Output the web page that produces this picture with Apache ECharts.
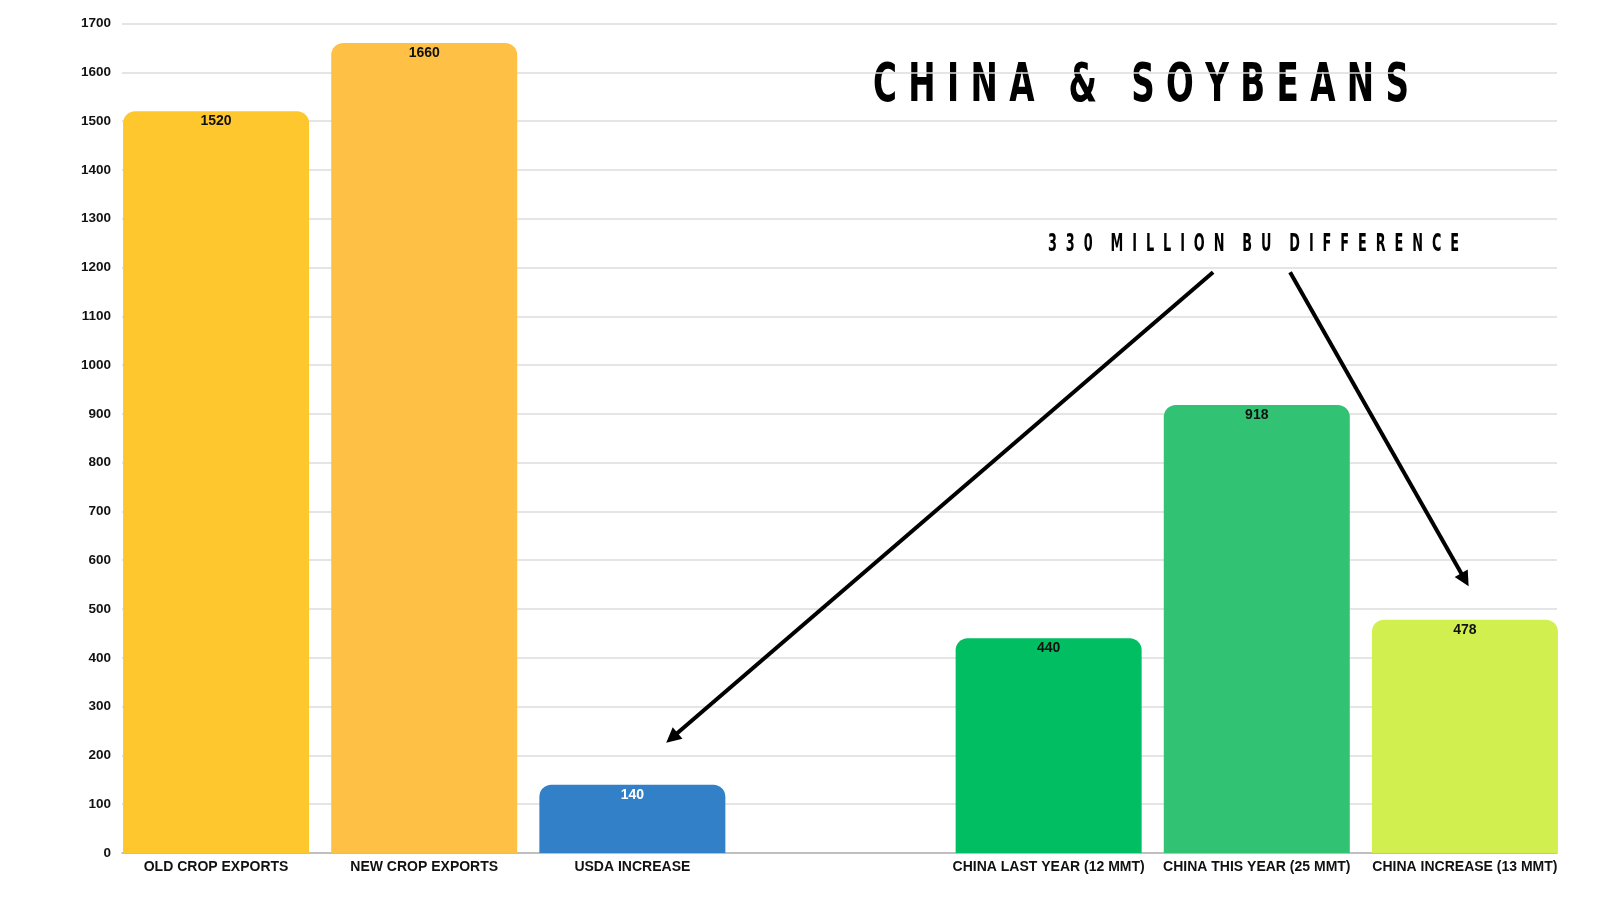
<!DOCTYPE html>
<html>
<head>
<meta charset="utf-8">
<title>China & Soybeans</title>
<script src="https://cdn.jsdelivr.net/npm/echarts@6/dist/echarts.min.js"></script>
<style>
  html, body { margin: 0; padding: 0; background: #fff; }
  #main { width: 1600px; height: 900px; }
</style>
</head>
<body>
<div id="main"></div>
<script>
// 数据
const categories = ['OLD CROP EXPORTS', 'NEW CROP EXPORTS', 'USDA INCREASE', '',
  'CHINA LAST YEAR (12 MMT)', 'CHINA THIS YEAR (25 MMT)', 'CHINA INCREASE (13 MMT)'];
const values = [1520, 1660, 140, null, 440, 918, 478];
const barColors = ['#FEC72D', '#FEC145', '#3180C8', '#ffffff', '#01BE62', '#32C274', '#D1EF4E'];
const labelColors = ['#111', '#111', '#ffffff', '#111', '#111', '#111', '#111'];
const yMin = 0, yMax = 1700, yStep = 100;

const titleText = 'CHINA & SOYBEANS';
const noteText = '330 MILLION BU DIFFERENCE';

// arrow anchors in (slot, value) units
const arrowFrom = [[5.29, 1190], [5.66, 1190]];
const arrowTo = [[2.69, 236], [6.5, 560]];

(function () {
    'use strict';

    const FONT = '"Liberation Sans", Arial, sans-serif';
    const DISPLAY = '"DejaVu Sans Condensed", "DejaVu Sans", sans-serif';

    // letter-spaced string
    function spaced(str, gap, wordGap) {
        return str.split(' ').map(w => w.split('').join(gap)).join(wordGap);
    }

    // measure text width to fit a target width via scaleX
    const mctx = document.createElement('canvas').getContext('2d');
    function fitScale(text, size, target) {
        mctx.font = 'bold ' + size + 'px ' + DISPLAY;
        return target / mctx.measureText(text).width;
    }

    const titleStr = spaced(titleText, ' ', '   ');
    const noteStr = spaced(noteText, '  ', '    ');
    const titleSize = 52.5, noteSize = 25.2;
    const titleScale = fitScale(titleStr, titleSize, 536);
    const noteScale = fitScale(noteStr, noteSize, 411);

    const chart = echarts.init(document.getElementById('main'));

    const option = {
        animation: false,
        grid: [
            { left: 122, right: 43, top: 23.5, bottom: 47 },
            { left: 112, right: 31, top: 23.5, bottom: 47 }
        ],
        xAxis: [
            {
                gridIndex: 0, type: 'category', data: categories,
                axisLabel: { show: false }, axisTick: { show: false },
                axisLine: { lineStyle: { color: '#b3b3b3', width: 1.5 } }
            },
            {
                gridIndex: 1, type: 'category', data: categories,
                axisLine: { show: false }, axisTick: { show: false },
                axisLabel: {
                    interval: 0, margin: 7, color: '#111',
                    fontFamily: FONT, fontWeight: 'bold', fontSize: 14
                }
            },
            { gridIndex: 1, type: 'value', min: 0, max: categories.length, show: false }
        ],
        yAxis: [
            {
                gridIndex: 0, type: 'value', min: yMin, max: yMax, interval: yStep,
                axisLine: { show: false }, axisTick: { show: false },
                axisLabel: {
                    margin: 11, color: '#111',
                    formatter: v => String(v),
                    fontFamily: FONT, fontWeight: 'bold', fontSize: 13.5
                },
                splitLine: { lineStyle: { color: '#dcdcdc', width: 1.5 } }
            },
            { gridIndex: 1, type: 'value', min: yMin, max: yMax, show: false }
        ],
        series: [
            {
                type: 'bar',
                xAxisIndex: 1, yAxisIndex: 1,
                barWidth: 186,
                data: values.map((v, i) => ({
                    value: v,
                    itemStyle: { color: barColors[i], borderRadius: [12, 12, 0, 0] },
                    label: { color: labelColors[i] }
                })),
                label: {
                    show: true, position: 'insideTop', distance: 3,
                    fontFamily: FONT, fontWeight: 'bold', fontSize: 14
                },
                emphasis: { disabled: true },
                silent: true
            },
            {
                // 箭头
                type: 'scatter',
                xAxisIndex: 2, yAxisIndex: 1,
                data: [],
                silent: true,
                markLine: {
                    silent: true,
                    animation: false,
                    symbol: ['none', 'triangle'],
                    symbolSize: [15, 15],
                    label: { show: false },
                    lineStyle: { color: '#000', width: 4, type: 'solid' },
                    emphasis: { disabled: true },
                    data: arrowFrom.map((p, i) => [{ coord: p }, { coord: arrowTo[i] }])
                }
            }
        ],
        graphic: [
            {
                type: 'text', x: 873, y: 87, scaleX: titleScale,
                style: {
                    text: titleStr, fill: '#000',
                    font: 'bold ' + titleSize + 'px ' + DISPLAY,
                    align: 'left', verticalAlign: 'middle'
                }
            },
            {
                type: 'text', x: 1048, y: 244, scaleX: noteScale,
                style: {
                    text: noteStr, fill: '#000',
                    font: 'bold ' + noteSize + 'px ' + DISPLAY,
                    align: 'left', verticalAlign: 'middle'
                }
            }
        ]
    };

    chart.setOption(option);
})();
</script>
</body>
</html>
